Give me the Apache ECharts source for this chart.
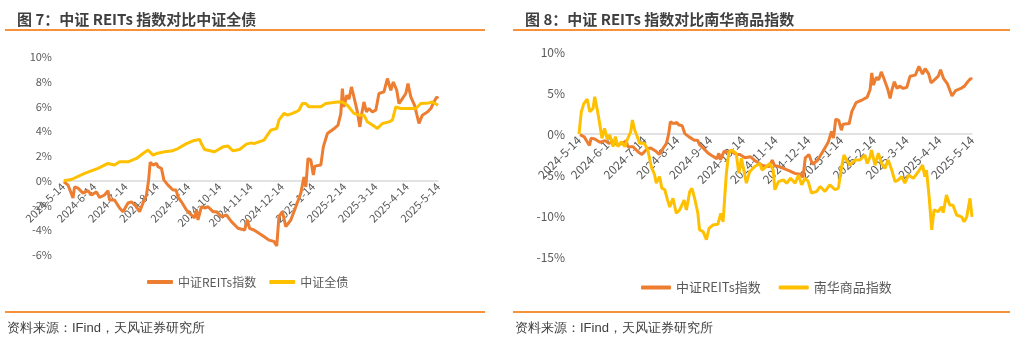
<!DOCTYPE html>
<html>
<head>
<meta charset="utf-8">
<script src="https://cdn.jsdelivr.net/npm/echarts@6/dist/echarts.min.js"></script>
<style>
html,body{margin:0;padding:0;background:#fff;}
#c{width:1016px;height:342px;}
</style>
</head>
<body>
<div id="c"></div>
<script>
// x positions are in months since 2024-5-14 (tick i = tickLabels[i])
var tickLabels = ['2024-5-14','2024-6-14','2024-7-14','2024-8-14','2024-9-14','2024-10-14','2024-11-14','2024-12-14','2025-1-14','2025-2-14','2025-3-14','2025-4-14','2025-5-14'];

// 中证REITs指数 (%)
var reitsX = [0.03,0.16,0.32,0.37,0.48,0.64,0.8,0.91,1.07,1.17,1.33,1.44,1.49,1.65,1.81,1.92,2.08,2.19,2.35,2.45,2.56,2.67,2.74,2.79,2.88,2.99,3.04,3.15,3.23,3.36,3.52,3.62,3.68,3.79,3.95,4.05,4.21,4.27,4.32,4.43,4.53,4.64,4.8,4.91,5.07,5.23,5.39,5.6,5.81,5.9,5.97,6.11,6.43,6.59,6.75,6.84,6.91,7.02,7.13,7.29,7.45,7.61,7.71,7.77,7.84,7.93,8.01,8.06,8.25,8.33,8.46,8.67,8.8,8.89,8.94,8.99,9.08,9.15,9.23,9.31,9.42,9.5,9.55,9.63,9.71,9.79,9.9,10.01,10.11,10.27,10.38,10.49,10.57,10.68,10.75,10.86,10.97,11.04,11.13,11.25,11.39,11.5,11.66,11.77,11.87,11.96,12.0];
var reitsY = [-0.08,-0.35,-1.4,-0.5,-0.6,-1.0,-0.8,-1.15,-0.9,-1.35,-1.15,-0.8,-1.55,-1.55,-2.2,-2.5,-1.8,-1.7,-2.1,-2.5,-1.8,-1.15,0.05,1.5,1.27,1.4,1.13,1.0,0.05,-0.35,-0.75,-0.75,-1.3,-1.7,-2.36,-2.63,-3.0,-2.36,-3.17,-2.1,-2.2,-2.1,-2.5,-2.5,-2.9,-2.77,-3.3,-3.84,-3.98,-3.17,-3.84,-3.98,-4.5,-4.8,-4.9,-5.27,-2.9,-2.5,-3.7,-3.17,-2.1,-1.0,0.3,-0.5,1.8,1.67,0.46,1.18,1.27,2.74,3.82,4.2,4.5,5.43,7.45,5.97,6.91,6.6,7.58,6.77,5.56,4.35,5.3,6.37,5.56,5.84,5.56,5.7,7.05,7.18,8.26,7.31,7.98,7.31,6.24,6.64,7.05,7.85,6.77,6.1,4.63,5.3,5.56,5.84,6.37,6.77,6.64];

// 中证全债 (%)
var bondX = [0.03,0.27,0.69,1.12,1.44,1.65,1.81,2.08,2.35,2.56,2.72,2.88,2.99,3.25,3.47,3.68,3.95,4.16,4.37,4.45,4.53,4.85,5.12,5.28,5.44,5.65,5.87,6.03,6.11,6.43,6.65,6.84,6.91,7.07,7.18,7.34,7.45,7.55,7.66,7.77,7.87,8.25,8.41,8.78,8.94,9.1,9.31,9.47,9.63,9.74,9.9,10.06,10.22,10.43,10.54,10.65,10.8,11.13,11.29,11.45,11.71,11.82,12.0];
var bondY = [0,0.1,0.6,1.0,1.4,1.27,1.53,1.53,1.8,2.2,2.48,2.07,2.2,2.34,2.4,2.6,3.0,3.23,3.34,2.88,2.53,2.34,2.74,2.8,2.42,2.53,2.96,3.06,3.0,3.28,4.09,4.22,4.9,5.44,5.3,5.44,5.56,5.7,6.24,6.24,5.97,5.97,6.24,6.37,6.37,6.1,5.44,5.3,5.3,4.76,4.5,4.22,4.63,4.76,4.9,5.97,5.84,5.84,5.84,6.24,6.29,6.37,6.1];

// 南华商品指数 (%)
var nhX = [0.0,0.07,0.15,0.25,0.33,0.43,0.48,0.56,0.63,0.7,0.78,0.86,0.94,1.04,1.11,1.19,1.29,1.4,1.47,1.58,1.63,1.7,1.78,1.85,2.0,2.1,2.21,2.31,2.36,2.46,2.53,2.62,2.7,2.77,2.87,2.97,3.07,3.21,3.28,3.38,3.45,3.53,3.63,3.68,3.79,3.89,3.97,4.09,4.24,4.33,4.4,4.45,4.5,4.57,4.65,4.8,4.88,4.96,5.01,5.11,5.21,5.36,5.52,5.59,5.83,5.93,5.98,6.09,6.24,6.34,6.46,6.6,6.7,6.8,6.9,7.0,7.1,7.26,7.36,7.51,7.66,7.82,7.92,8.02,8.09,8.17,8.27,8.43,8.58,8.73,8.8,8.89,8.93,9.04,9.14,9.24,9.34,9.44,9.55,9.65,9.75,9.85,9.95,10.06,10.21,10.36,10.49,10.56,10.61,10.69,10.77,10.84,10.97,11.07,11.12,11.22,11.32,11.42,11.53,11.68,11.76,11.84,11.94,12.0];
var nhY = [0,2.7,3.74,4.23,2.72,3.13,4.55,2.93,1.3,-0.53,0.69,-0.6,-0.12,-1.55,-0.33,-1.55,-0.94,-1.55,-0.73,0.28,1.7,0.49,-0.33,-1.14,-1.14,-1.95,-3.99,-5.0,-6.0,-5.2,-6.6,-6.8,-8.0,-8.9,-7.84,-9.67,-9.27,-8.05,-9.27,-7.03,-6.62,-7.84,-9.67,-11.7,-11.9,-12.9,-11.5,-11.1,-11.0,-9.67,-10.7,-7.65,-4.8,-2.35,-1.95,-2.35,-4.8,-2.96,-3.2,-6.0,-4.6,-4.0,-3.6,-4.4,-3.6,-4.4,-6.8,-5.8,-5.6,-6.0,-5.4,-6.0,-5.0,-6.2,-5.4,-5.8,-7.2,-7.0,-6.4,-7.0,-6.2,-6.8,-6.6,-4.0,-2.56,-3.17,-3.8,-3.17,-3.17,-2.56,-3.6,-2.76,-1.95,-3.8,-2.35,-3.6,-4.2,-3.17,-4.4,-5.8,-5.6,-5.2,-6.0,-5.0,-5.4,-4.6,-3.8,-5.2,-4.4,-7.6,-11.7,-9.27,-9.47,-8.87,-9.6,-7.44,-8.66,-8.7,-9.88,-10.1,-10.7,-10.1,-7.84,-10.1];

function zip(xs, ys){ var out=[]; for(var i=0;i<xs.length;i++){ out.push([xs[i], ys[i]]); } return out; }

var FONT = '"Noto Sans CJK SC", "Noto Sans", sans-serif';
var ORANGE = '#ED7D31', YELLOW = '#FFC000', RULE = '#F7923A';

// main x axis: zero line only
function xLineAxis(gi){
  return {
    type:'value', gridIndex:gi, min:0, max:12, interval:1,
    axisLine:{show:true, onZero:true, lineStyle:{color:'#D9D9D9', width:1.5}},
    axisTick:{show:false}, splitLine:{show:false}, axisLabel:{show:false}
  };
}
// label x axis: sits on the 0% line (bottom of a helper grid)
function xLabelAxis(gi, fs){
  return {
    type:'value', gridIndex:gi, min:0, max:12, interval:1,
    axisLine:{show:false}, axisTick:{show:false}, splitLine:{show:false},
    axisLabel:{rotate:45, margin:4, fontSize:fs, color:'#595959', fontFamily:FONT,
      showMinLabel:true, showMaxLabel:true,
      formatter:function(v){ return tickLabels[Math.round(v)] || ''; }}
  };
}
function yAxisCfg(gi, mn, mx, iv, fs, mg){
  return {
    type:'value', gridIndex:gi, min:mn, max:mx, interval:iv,
    axisLine:{show:false, onZero:false}, axisTick:{show:false}, splitLine:{show:false},
    axisLabel:{fontSize:fs, color:'#595959', margin:mg, fontFamily:FONT,
      formatter:function(v){ return v + '%'; }}
  };
}
function yHidden(gi){
  return {type:'value', gridIndex:gi, min:0, max:1, show:false,
    axisLine:{show:false, onZero:false}, splitLine:{show:false}};
}
function lineSeries(name, xi, yi, data, color){
  return {type:'line', name:name, xAxisIndex:xi, yAxisIndex:yi, data:data,
    showSymbol:false, symbol:'none', smooth:false, animation:false,
    lineStyle:{color:color, width:3}, itemStyle:{color:color}};
}

var chart = echarts.init(document.getElementById('c'), null, {renderer:'canvas'});
chart.setOption({
  backgroundColor:'#ffffff',
  animation:false,
  title:[
    {text:'图 7：中证 REITs 指数对比中证全债', left:12, top:7,
      textStyle:{fontSize:15, fontWeight:'bold', color:'#404040', fontFamily:FONT}},
    {text:'图 8：中证 REITs 指数对比南华商品指数', left:520, top:7,
      textStyle:{fontSize:15, fontWeight:'bold', color:'#404040', fontFamily:FONT}}
  ],
  legend:[
    {data:['中证REITs指数','中证全债'], left:142, top:271, icon:'roundRect',
      itemWidth:26, itemHeight:4, itemGap:13,
      textStyle:{fontSize:12, color:'#595959', fontFamily:FONT}},
    {data:['中证REITs指数','南华商品指数'], left:636, top:276, icon:'roundRect',
      itemWidth:30, itemHeight:4, itemGap:18,
      textStyle:{fontSize:13, color:'#595959', fontFamily:FONT}}
  ],
  grid:[
    {left:63, right:578, top:57, bottom:87},
    {left:579, right:44, top:52, bottom:85},
    {left:63, right:578, top:57, bottom:161.3},
    {left:579, right:44, top:52, bottom:208}
  ],
  xAxis:[xLineAxis(0), xLineAxis(1), xLabelAxis(2,11), xLabelAxis(3,12)],
  yAxis:[yAxisCfg(0,-6,10,2,11,11), yAxisCfg(1,-15,10,5,12,14), yHidden(2), yHidden(3)],
  series:[
    lineSeries('中证REITs指数',0,0,zip(reitsX,reitsY),ORANGE),
    lineSeries('中证全债',0,0,zip(bondX,bondY),YELLOW),
    lineSeries('中证REITs指数',1,1,zip(reitsX,reitsY),ORANGE),
    lineSeries('南华商品指数',1,1,zip(nhX,nhY),YELLOW)
  ],
  graphic:[
    {type:'line', shape:{x1:5,y1:30,x2:485,y2:30}, style:{stroke:RULE, lineWidth:2}},
    {type:'line', shape:{x1:513,y1:30,x2:1010,y2:30}, style:{stroke:RULE, lineWidth:2}},
    {type:'line', shape:{x1:5,y1:312,x2:485,y2:312}, style:{stroke:RULE, lineWidth:2}},
    {type:'line', shape:{x1:513,y1:312,x2:1010,y2:312}, style:{stroke:RULE, lineWidth:2}},
    {type:'text', left:7, top:322, style:{text:'资料来源：IFind，天风证券研究所', fontSize:13, fill:'#404040', font:'13px ' + FONT}},
    {type:'text', left:515, top:322, style:{text:'资料来源：IFind，天风证券研究所', fontSize:13, fill:'#404040', font:'13px ' + FONT}}
  ]
});
</script>
</body>
</html>
